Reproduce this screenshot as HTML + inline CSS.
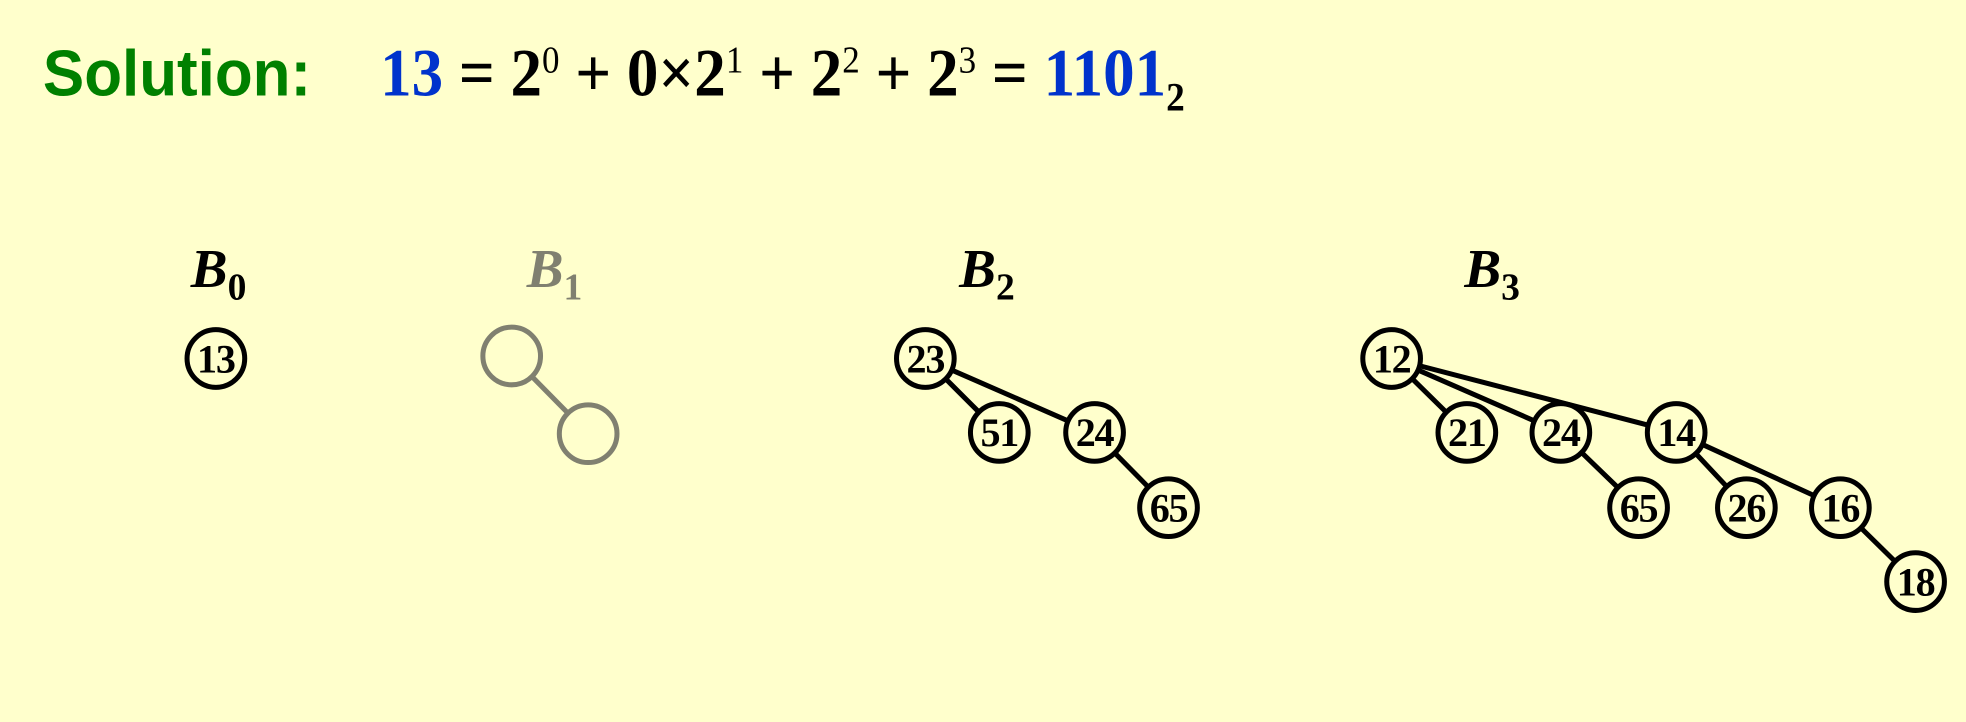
<!DOCTYPE html>
<html><head><meta charset="utf-8"><style>
html,body{margin:0;padding:0;background:#ffffcc;}
svg{display:block}
</style></head><body>
<svg width="1966" height="722" viewBox="0 0 1568 576" xmlns="http://www.w3.org/2000/svg">
<rect width="1568" height="576" fill="#ffffcc"/>
<text x="34" y="76" font-family="Liberation Sans, sans-serif" font-weight="bold" font-size="52" textLength="214" lengthAdjust="spacingAndGlyphs" fill="#008000">Solution:</text>
<text x="303" y="76" font-family="Liberation Serif, serif" font-weight="bold" font-size="54" fill="#000" textLength="642" lengthAdjust="spacingAndGlyphs"><tspan fill="#0033cc">13</tspan> = 2<tspan font-size="30" font-weight="normal" dy="-18">0</tspan><tspan dy="18"> + 0×2</tspan><tspan font-size="30" font-weight="normal" dy="-18">1</tspan><tspan dy="18"> + 2</tspan><tspan font-size="30" font-weight="normal" dy="-18">2</tspan><tspan dy="18"> + 2</tspan><tspan font-size="30" font-weight="normal" dy="-18">3</tspan><tspan dy="18"> = </tspan><tspan fill="#0033cc">1101</tspan><tspan font-size="32" dy="12">2</tspan></text>
<g id="trees" font-family="Liberation Serif, serif" font-weight="bold"></g>
</svg>
<script>
const labels = [["B","0",152,"#000"],["B","1",420,"#808070"],["B","2",765,"#000"],["B","3",1168,"#000"]];
const nodes = [
 ["13",172,286,"#000"],
 ["",408,284,"#808070"],["",469,346,"#808070"],
 ["23",738,286,"#000"],["51",797,345,"#000"],["24",873,345,"#000"],["65",932,405,"#000"],
 ["12",1110,286,"#000"],["21",1170,345,"#000"],["24",1245,345,"#000"],["14",1337,345,"#000"],["65",1307,405,"#000"],["26",1393,405,"#000"],["16",1468,405,"#000"],["18",1528,464,"#000"]
];
const edges = [[1,2],[3,4],[3,5],[5,6],[7,8],[7,9],[7,10],[9,11],[10,12],[10,13],[13,14]];
const NS="http://www.w3.org/2000/svg";
const g=document.getElementById('trees');
const R=23;
labels.forEach(l=>{
 const t=document.createElementNS(NS,'text');
 t.setAttribute('x',l[2]);t.setAttribute('y',229);t.setAttribute('font-size',44);t.setAttribute('fill',l[3]);
 
 
 t.innerHTML='<tspan font-style="italic">'+l[0]+'</tspan><tspan font-size="30" dy="10">'+l[1]+'</tspan>';
 g.appendChild(t);
});
edges.forEach(e=>{
 const a=nodes[e[0]],b=nodes[e[1]];
 const dx=b[1]-a[1],dy=b[2]-a[2],d=Math.hypot(dx,dy);
 const ln=document.createElementNS(NS,'line');
 ln.setAttribute('x1',a[1]+dx/d*R);ln.setAttribute('y1',a[2]+dy/d*R);
 ln.setAttribute('x2',b[1]-dx/d*R);ln.setAttribute('y2',b[2]-dy/d*R);
 ln.setAttribute('stroke',a[3]);ln.setAttribute('stroke-width',4);
 
 
 g.appendChild(ln);
});
nodes.forEach(n=>{
 const c=document.createElementNS(NS,'circle');
 c.setAttribute('cx',n[1]);c.setAttribute('cy',n[2]);c.setAttribute('r',R);
 c.setAttribute('fill','none');c.setAttribute('stroke',n[3]);c.setAttribute('stroke-width',4);
 
 
 g.appendChild(c);
 if(n[0]){
  const t=document.createElementNS(NS,'text');
  t.setAttribute('x',n[1]);t.setAttribute('y',n[2]+11);t.setAttribute('text-anchor','middle');
  t.setAttribute('font-size',32);t.setAttribute('letter-spacing','-1');t.setAttribute('fill','#000');
  
  
  t.textContent=n[0];
  g.appendChild(t);
 }
});
</script>
</body></html>
